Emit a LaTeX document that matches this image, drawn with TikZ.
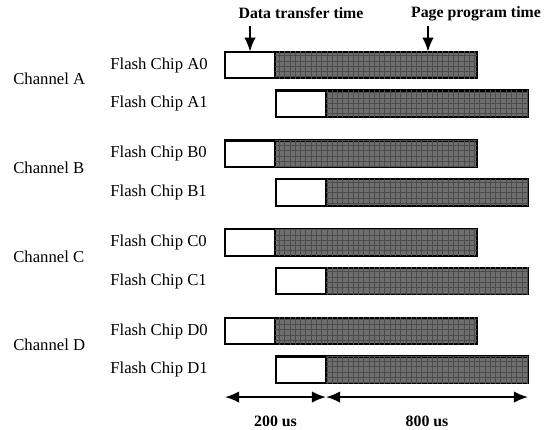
\documentclass[tikz,border=0pt]{standalone}
\usepackage{fontspec}
\setmainfont{Liberation Serif}
\usepackage{tikz}
\usetikzlibrary{calc, positioning, arrows.meta, patterns}
\usepackage{xcolor}
\definecolor{progGray}{RGB}{110, 110, 110}

\begin{document}
\begin{tikzpicture}[
  chiplabel/.style={font=\fontsize{9.5}{11}\selectfont, anchor=west, inner sep=0pt},
  xfer/.style={draw, line width=1.3pt, fill=white, minimum width=1.0cm, minimum height=0.53cm, inner sep=0pt, outer sep=0pt, anchor=west},
  prog/.style={xfer, fill=progGray, minimum width=4.04cm, postaction={pattern=grid, pattern color=black!70}},
  timetext/.style={font=\fontsize{9}{11}\selectfont\bfseries, inner sep=0pt},
  pointer/.style={-{Latex[length=8pt, width=6.5pt]}, line width=1.1pt},
  span/.style={{Latex[length=8pt, width=6.5pt]}-{Latex[length=8pt, width=6.5pt]}, line width=1.1pt}
]
  \useasboundingbox (0, 0) rectangle (11.02, -8.6);
  % Channels and chips
  \foreach \ch [count=\i from 0] in {A,B,C,D} {
    \node[chiplabel] (ch\ch) at (0.26, -1.58-\i*1.774) {Channel \ch};
    \foreach \k in {0,1} {
      \node[chiplabel] (fc\ch\k) at (2.2, -1.30-\i*1.774-\k*0.774) {Flash Chip \ch\k};
      \node[xfer] (x\ch\k) at (4.5+\k*1.02, -1.30-\i*1.774-\k*0.774) {};
      \node[prog] (p\ch\k) at (x\ch\k.east) {};
    }
  }
  % Top annotations
  \node[timetext] (dtt) at (6.02, -0.27) {Data transfer time};
  \node[timetext] (ppt) at (9.52, -0.27) {Page program time};
  \coordinate (pptTip) at ($(pA0.north east)+(-0.98, 0)$);
  \draw[pointer] ($(xA0.north)+(0, 0.52)$) -- (xA0.north);
  \draw[pointer] ($(pptTip)+(0, 0.52)$) -- (pptTip);
  % Time spans
  \coordinate (tb) at ($(xD1.south)+(0, -0.28)$);
  \coordinate (t0) at (xD0.west |- tb);
  \coordinate (t1) at (xD1.east |- tb);
  \coordinate (t2) at (pD1.east |- tb);
  \draw[span] (t0) -- (t1);
  \draw[span] (t1) -- (t2);
  \node[timetext] (d200) at ($(t0)!0.5!(t1)+(0, -0.48)$) {200 us};
  \node[timetext] (d800) at ($(t1)!0.5!(t2)+(0, -0.48)$) {800 us};
\end{tikzpicture}
\end{document}
